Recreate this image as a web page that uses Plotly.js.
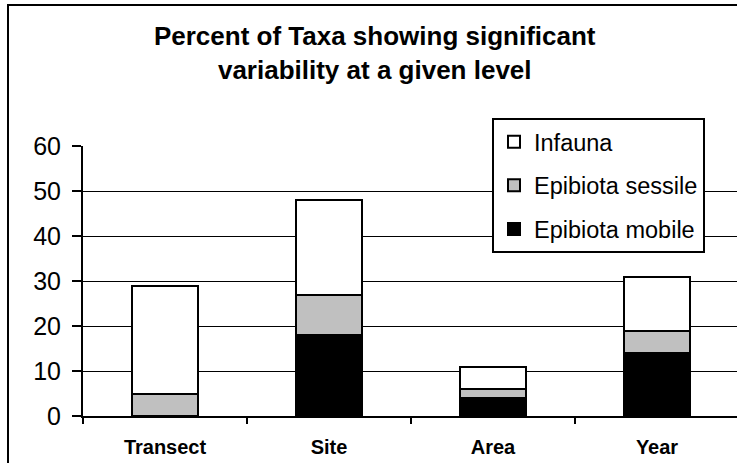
<!DOCTYPE html>
<html>
<head>
<meta charset="utf-8">
<script src="https://cdn.plot.ly/plotly-3.0.1.min.js"></script>
<style>
html,body{margin:0;padding:0;width:737px;height:463px;overflow:hidden;background:#fff;}
#frame{position:absolute;left:7px;top:4px;width:800px;height:600px;border-left:2px solid #000;border-top:2px solid #000;pointer-events:none;z-index:5;}
#chart{position:absolute;left:0;top:0;width:745px;height:463px;}
</style>
</head>
<body>
<div id="chart"></div>
<div id="frame"></div>
<script>
const categories = ["Transect", "Site", "Area", "Year"];
const epibiotaMobile = [0, 18, 4, 14];
const epibiotaSessile = [5, 9, 2, 5];
const infauna = [24, 21, 5, 12];
const yTicks = [0, 10, 20, 30, 40, 50, 60];

const font = "Liberation Sans, Arial, sans-serif";
const line = {color: "#000", width: 2};
const traces = [
  {name: "Epibiota mobile", y: epibiotaMobile, color: "#000000", group: "a", rank: 3},
  {name: "Epibiota sessile", y: epibiotaSessile, color: "#c0c0c0", group: "b", rank: 2},
  {name: "Infauna", y: infauna, color: "#ffffff", group: "c", rank: 1}
].map(t => ({
  type: "bar", x: categories, y: t.y, name: t.name, legendgroup: t.group, legendrank: t.rank,
  marker: {color: t.color, line: line}, width: 0.4, hoverinfo: "skip"
}));

const layout = {
  width: 745, height: 463,
  margin: {l: 83, r: 6, t: 146, b: 47},
  paper_bgcolor: "#fff", plot_bgcolor: "#fff",
  barmode: "stack",
  font: {family: font, color: "#000"},
  title: {
    text: "<b>Percent of Taxa showing significant<br>variability at a given level</b>",
    font: {size: 26, family: font, color: "#000"},
    xref: "container", x: 0.503, xanchor: "center",
    yref: "container", y: 1 - 45/463, yanchor: "top"
  },
  xaxis: {
    type: "category", showline: true, linecolor: "#000", linewidth: 2,
    ticks: "outside", tickson: "boundaries", ticklen: 6, tickwidth: 2, tickcolor: "#000",
    tickfont: {size: 20, family: font, color: "#000"},
    ticktext: categories.map(c => "<b>" + c + "</b>"), tickvals: categories,
    ticklabelstandoff: 12, showgrid: false
  },
  yaxis: {
    range: [0, 60], tickvals: yTicks, showline: true, linecolor: "#000", linewidth: 2,
    ticks: "outside", ticklen: 9, tickwidth: 2, tickcolor: "#000",
    tickfont: {size: 25, family: font, color: "#000"},
    showgrid: true, gridcolor: "#000", gridwidth: 1, zeroline: false,
    ticklabelstandoff: 6
  },
  showlegend: true,
  legend: {
    x: (492 - 83) / 656, xanchor: "left", y: (416 - 118) / 270, yanchor: "top",
    bgcolor: "#fff", bordercolor: "#000", borderwidth: 2,
    font: {size: 23.5, family: font, color: "#000"},
    traceorder: "grouped", tracegroupgap: 10
  }
};

Plotly.newPlot("chart", traces, layout, {displayModeBar: false, staticPlot: true});
</script>
</body>
</html>
